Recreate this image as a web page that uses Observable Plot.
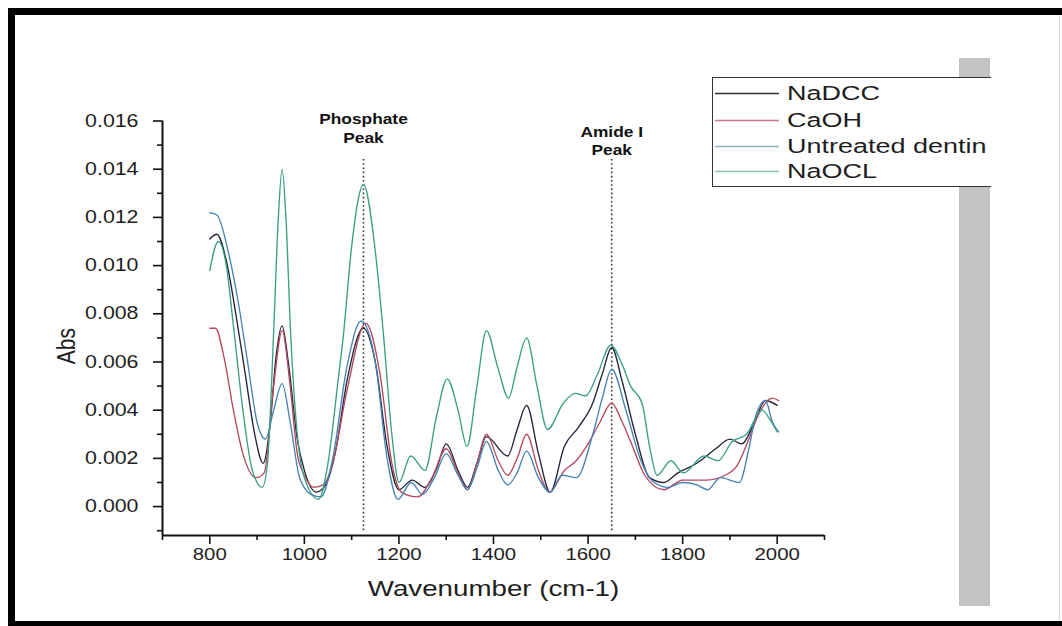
<!DOCTYPE html>
<html><head><meta charset="utf-8">
<script src="https://cdn.jsdelivr.net/npm/d3@7"></script>
<script src="https://cdn.jsdelivr.net/npm/@observablehq/plot@0.6"></script>
<style>
html,body{margin:0;padding:0;background:#fff;}
#wrap{position:relative;width:1062px;height:626px;overflow:hidden;background:#fff;font-family:"Liberation Sans",Arial,sans-serif;}
#plot{position:absolute;left:0;top:0;}
.bd{position:absolute;background:#000;}
#gray{position:absolute;left:959px;top:58px;width:31px;height:548px;background:#c3c3c3;}
#edge{position:absolute;left:1059px;top:15px;width:1px;height:606px;background:#d8d8d8;}
#legend{position:absolute;left:712px;top:77px;width:278px;height:108px;background:#fff;border:1.6px solid #333;border-right:none;}
.lrow{position:absolute;left:0;height:26px;}
.lrow svg{position:absolute;left:2px;top:12px;}
.lrow span{position:absolute;left:74px;top:0;font-size:20px;line-height:26px;color:#1e1e1e;white-space:nowrap;transform:scaleX(1.35);transform-origin:0 50%;}
</style>
</head><body>
<div id="wrap">
  <div id="plot"></div>
  <div class="bd" style="left:8px;top:8px;width:1054px;height:7px;"></div>
  <div class="bd" style="left:8px;top:8px;width:7px;height:618px;"></div>
  <div class="bd" style="left:8px;top:621px;width:1054px;height:5px;"></div>
  <div id="edge"></div>
  <div id="gray"></div>
  <div id="legend"></div>
</div>
<script>
// ---------- data ----------
const seriesNames = ["NaDCC", "CaOH", "Untreated dentin", "NaOCL"];
const seriesColors = ["#23253a", "#b5485c", "#4583b5", "#3a9f86"];
const legendColors = ["#333333", "#c87a86", "#8fb2c8", "#8cc2b2"];

const nadccWn  = [800, 815, 835, 855, 875, 895, 913, 928, 940, 953, 966, 985, 1000, 1025, 1045, 1065, 1090, 1125, 1150, 1175, 1200, 1228, 1255, 1280, 1300, 1325, 1345, 1365, 1385, 1430, 1450, 1470, 1495, 1520, 1550, 1580, 1610, 1630, 1650, 1672, 1700, 1730, 1760, 1790, 1830, 1870, 1900, 1925, 1950, 1975, 2000];
const nadccAbs = [0.0111, 0.0113, 0.0102, 0.0080, 0.0055, 0.0030, 0.0018, 0.0035, 0.0062, 0.0075, 0.0060, 0.0028, 0.0015, 0.0006, 0.0009, 0.0022, 0.0052, 0.0074, 0.0060, 0.0025, 0.0007, 0.0011, 0.0008, 0.0016, 0.0026, 0.0015, 0.0008, 0.0018, 0.0029, 0.0021, 0.0032, 0.0042, 0.0022, 0.0006, 0.0025, 0.0033, 0.0043, 0.0055, 0.0066, 0.0052, 0.0030, 0.0012, 0.0010, 0.0014, 0.0018, 0.0024, 0.0028, 0.0026, 0.0034, 0.0044, 0.0042];

const caohWn  = [800, 812, 830, 850, 870, 898, 915, 935, 953, 970, 985, 1000, 1020, 1040, 1060, 1090, 1130, 1160, 1185, 1205, 1240, 1270, 1300, 1325, 1345, 1365, 1385, 1410, 1430, 1450, 1470, 1495, 1518, 1550, 1575, 1600, 1625, 1650, 1670, 1690, 1720, 1760, 1800, 1850, 1890, 1915, 1940, 1960, 1990, 2003];
const caohAbs = [0.0074, 0.0074, 0.0062, 0.0040, 0.0022, 0.0012, 0.0014, 0.0050, 0.0073, 0.0050, 0.0022, 0.0013, 0.0008, 0.0009, 0.0018, 0.0048, 0.0076, 0.0055, 0.0018, 0.0006, 0.0004, 0.0012, 0.0024, 0.0014, 0.0007, 0.0018, 0.0030, 0.0019, 0.0013, 0.0020, 0.0030, 0.0015, 0.0006, 0.0015, 0.0019, 0.0026, 0.0035, 0.0043, 0.0036, 0.0027, 0.0013, 0.0007, 0.0011, 0.0011, 0.0013, 0.0017, 0.0028, 0.0038, 0.0045, 0.0044];

const untreatedWn  = [800, 815, 840, 860, 880, 900, 918, 935, 953, 970, 990, 1015, 1035, 1060, 1090, 1120, 1150, 1175, 1198, 1226, 1250, 1275, 1300, 1325, 1345, 1365, 1385, 1410, 1430, 1450, 1470, 1495, 1520, 1545, 1575, 1610, 1630, 1650, 1680, 1710, 1740, 1770, 1800, 1830, 1853, 1880, 1920, 1940, 1955, 1975, 1990, 2003];
const untreatedAbs = [0.0122, 0.0121, 0.0105, 0.0085, 0.0060, 0.0035, 0.0028, 0.0040, 0.0051, 0.0035, 0.0012, 0.0005, 0.0004, 0.0020, 0.0058, 0.0077, 0.0060, 0.0020, 0.0003, 0.0010, 0.0005, 0.0012, 0.0022, 0.0013, 0.0007, 0.0016, 0.0027, 0.0015, 0.0009, 0.0014, 0.0023, 0.0012, 0.0006, 0.0013, 0.0012, 0.0030, 0.0045, 0.0057, 0.0040, 0.0020, 0.0010, 0.0008, 0.0010, 0.0009, 0.0007, 0.0012, 0.0010, 0.0024, 0.0038, 0.0044, 0.0035, 0.0031];

const naoclWn  = [800, 818, 835, 850, 870, 890, 911, 922, 935, 945, 953, 961, 971, 985, 1000, 1030, 1050, 1070, 1083, 1100, 1125, 1150, 1167, 1185, 1200, 1225, 1255, 1280, 1302, 1325, 1344, 1365, 1385, 1410, 1432, 1450, 1470, 1492, 1514, 1548, 1573, 1595, 1620, 1648, 1672, 1690, 1714, 1730, 1746, 1775, 1802, 1845, 1875, 1905, 1935, 1968, 1985, 2000];
const naoclAbs = [0.0098, 0.0110, 0.0100, 0.0075, 0.0040, 0.0015, 0.0008, 0.0018, 0.0072, 0.0120, 0.0140, 0.0120, 0.0072, 0.0030, 0.0012, 0.0003, 0.0018, 0.0050, 0.0072, 0.0108, 0.01336, 0.0106, 0.0072, 0.0030, 0.0010, 0.0021, 0.0015, 0.0038, 0.0053, 0.0040, 0.0025, 0.0050, 0.0073, 0.0057, 0.0045, 0.0058, 0.0070, 0.0050, 0.0032, 0.0043, 0.0047, 0.0046, 0.0055, 0.0067, 0.0059, 0.0050, 0.0043, 0.0025, 0.0013, 0.0019, 0.0014, 0.0021, 0.0019, 0.0027, 0.0030, 0.0040, 0.0036, 0.0031];

const xDomain = [700, 2100];
const yDomain = [-0.0012, 0.016];
const xTicks = [800, 1000, 1200, 1400, 1600, 1800, 2000];
const xMinor = [700, 900, 1100, 1300, 1500, 1700, 1900, 2100];
const yTicks = [0, 0.002, 0.004, 0.006, 0.008, 0.010, 0.012, 0.014, 0.016];
const yMinor = [-0.001, 0.001, 0.003, 0.005, 0.007, 0.009, 0.011, 0.013, 0.015];

const peakWn = [1125, 1650];
const peakLabels = ["Phosphate\nPeak", "Amide I\nPeak"];
const peakLabelAbs = [0.0151, 0.0146];
const peakLineTop = 0.0144;
const peakLineBottom = -0.001;

// ---------- build rows ----------
const seriesWn = [nadccWn, caohWn, untreatedWn, naoclWn];
const seriesAbs = [nadccAbs, caohAbs, untreatedAbs, naoclAbs];
const rows = seriesNames.flatMap((name, i) => seriesWn[i].map((w, j) => ({series: name, wn: w, abs: seriesAbs[i][j]})));
const peaks = peakWn.map((w, i) => ({wn: w, label: peakLabels[i], y: peakLabelAbs[i]}));

const font = "Liberation Sans, Arial, sans-serif";
const plot = Plot.plot({
  width: 1062, height: 626,
  marginLeft: 162, marginRight: 238, marginTop: 120.5, marginBottom: 91,
  style: {fontFamily: font, background: "transparent", color: "#1e1e1e", overflow: "visible"},
  x: {domain: xDomain, axis: null},
  y: {domain: yDomain, axis: null},
  color: {domain: seriesNames, range: seriesColors},
  marks: [
    Plot.ruleX([xDomain[0]], {stroke: "#111", strokeWidth: 2}),
    Plot.ruleY([yDomain[0]], {stroke: "#111", strokeWidth: 2}),
    Plot.axisX(xMinor, {tickSize: 5, tickFormat: () => "", label: null, stroke: "#111", strokeWidth: 1.6}),
    Plot.axisX(xTicks, {tickSize: 9, tickPadding: 3, fontSize: 17, tickFormat: d3.format("d"), label: null, stroke: "#111", strokeWidth: 1.6}),
    Plot.axisY(yMinor, {tickSize: 5, tickFormat: () => "", label: null, stroke: "#111", strokeWidth: 1.6}),
    Plot.axisY(yTicks, {tickSize: 9, tickPadding: 15, fontSize: 17.5, tickFormat: d3.format(".3f"), label: null, stroke: "#111", strokeWidth: 1.6}),
    Plot.ruleX(peaks, {x: "wn", y1: peakLineBottom, y2: peakLineTop, stroke: "#333", strokeWidth: 1.6, strokeDasharray: "1.6,2.6"}),
    Plot.line(rows, {x: "wn", y: "abs", z: "series", stroke: "series", strokeWidth: 1.35, curve: "monotone-x"}),
    Plot.text(peaks, {x: "wn", y: "y", text: "label", lineAnchor: "bottom", fontSize: 14, fontWeight: "bold", lineHeight: 1.3, fill: "#111"}),
    Plot.text(["Wavenumber (cm-1)"], {frameAnchor: "bottom", lineAnchor: "middle", dy: 53, fontSize: 22, fill: "#1e1e1e"}),
    Plot.text(["Abs"], {frameAnchor: "left", lineAnchor: "middle", rotate: -90, dx: -96, dy: 36, fontSize: 21, fill: "#1e1e1e"})
  ]
});
document.getElementById("plot").appendChild(plot);

// horizontal stretch of texts (the reference image is stretched sideways);
// the stretch factor is chosen from the font size the text inherits
function fontSizeOf(el) {
  let n = el;
  while (n && n !== plot.parentNode) {
    if (n.getAttribute && n.getAttribute("font-size")) return parseFloat(n.getAttribute("font-size"));
    n = n.parentNode;
  }
  return null;
}
const stretchBySize = {17: [1.2, 1], 17.5: [1.22, 1], 14: [1.24, 1], 22: [1.26, 1], 21: [1, 1.2]};
plot.querySelectorAll("text").forEach((el) => {
  const f = stretchBySize[fontSizeOf(el)];
  if (!f) return;
  let t = el.getAttribute("transform") || "";
  const x = el.getAttribute("x");
  if (x != null && /^-?[\d.]+$/.test(x) && +x !== 0) {
    t += ` translate(${+x},0)`;
    el.removeAttribute("x");
  }
  el.setAttribute("transform", `${t} scale(${f[0]},${f[1]})`);
});

// legend
const legend = d3.select("#legend");
const rowTops = [2, 29, 55, 80];
seriesNames.forEach((name, i) => {
  const r = legend.append("div").attr("class", "lrow").style("top", rowTops[i] + "px");
  const s = r.append("svg").attr("width", 64).attr("height", 3);
  s.append("line").attr("x1", 0).attr("x2", 64).attr("y1", 1.5).attr("y2", 1.5)
    .attr("stroke", legendColors[i]).attr("stroke-width", 1.4);
  r.append("span").text(name);
});
</script>
</body></html>
